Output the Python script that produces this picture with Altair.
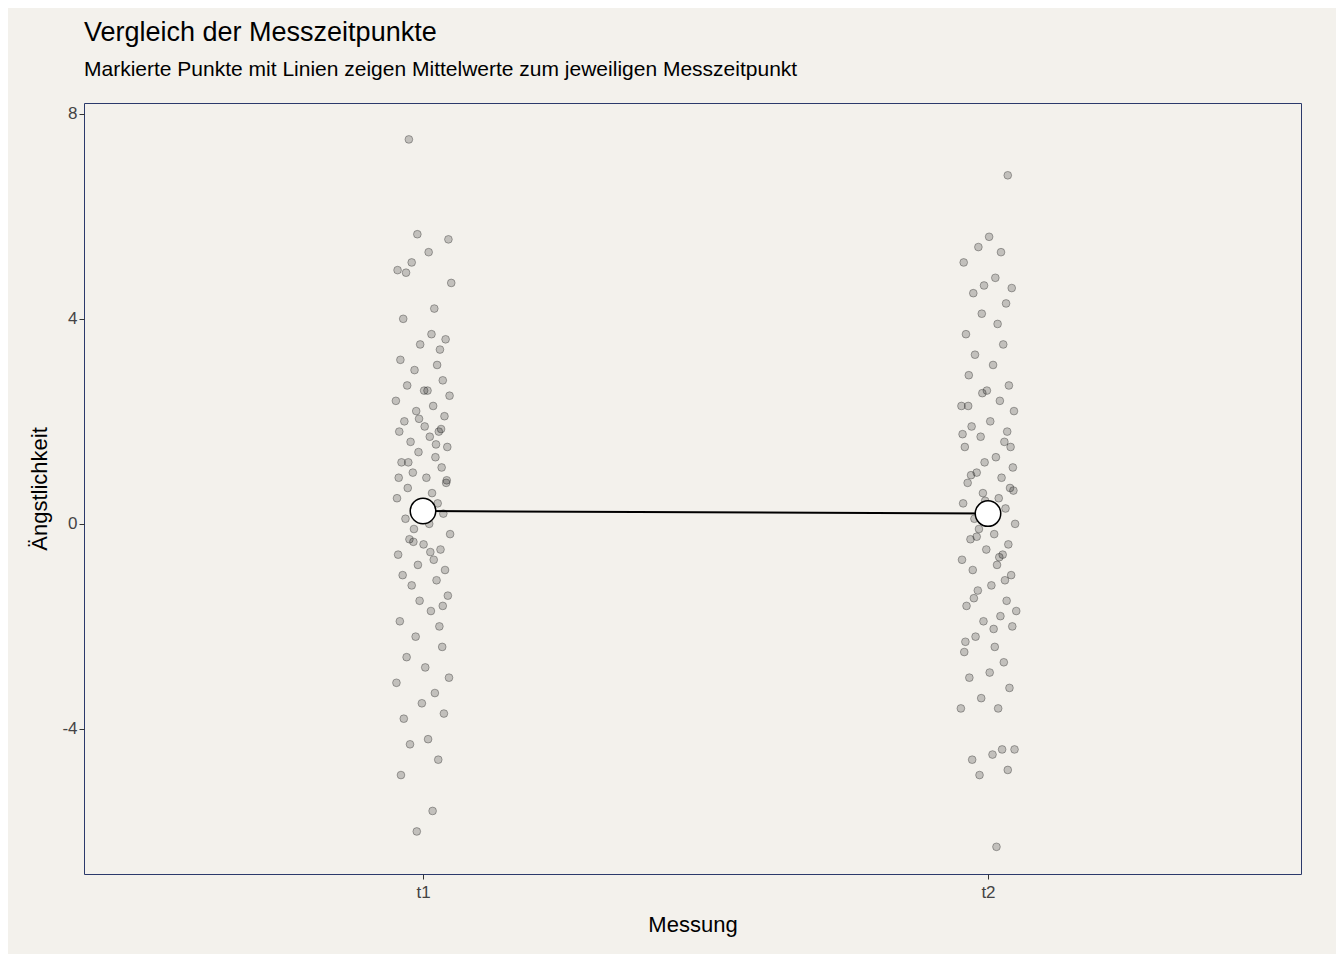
import altair as alt
import pandas as pd

groups = ["t1", "t2"]
means = [0.25, 0.2]

t1_values = [7.5, 5.65, 5.55, 5.3, 5.1, 4.95, 4.9, 4.7, 4.2, 4.0, 3.7, 3.6, 3.5, 3.4, 3.2, 3.1,
             3.0, 2.8, 2.7, 2.6, 2.5, 2.4, 2.3, 2.2, 2.1, 2.0, 1.9, 1.8, 1.8, 1.7, 1.6, 1.5,
             1.4, 1.3, 1.2, 1.1, 1.0, 0.9, 0.8, 0.7, 0.6, 0.5, 0.4, 0.3, 0.2, 0.1, 0.0, -0.1,
             -0.2, -0.3, -0.4, -0.5, -0.6, -0.7, -0.8, -0.9, -1.0, -1.1, -1.2, -1.4, -1.5, -1.7,
             -1.9, -2.0, -2.2, -2.4, -2.6, -2.8, -3.0, -3.1, -3.3, -3.5, -3.7, -3.8, -4.2, -4.3,
             -4.6, -4.9, -5.6, -6.0, 1.85, 1.2, 0.85, 2.05, -0.55, 0.9, 1.55, -0.35, 2.6, -1.6]
t2_values = [6.8, 5.6, 5.4, 5.3, 5.1, 4.8, 4.65, 4.6, 4.5, 4.3, 4.1, 3.9, 3.7, 3.5, 3.3, 3.1,
             2.9, 2.7, 2.6, 2.4, 2.3, 2.2, 2.0, 1.9, 1.8, 1.7, 1.6, 1.5, 1.3, 1.2, 1.1, 1.0,
             0.9, 0.8, 0.7, 0.6, 0.5, 0.4, 0.3, 0.2, 0.1, 0.0, -0.1, -0.2, -0.3, -0.4, -0.5, -0.6,
             -0.7, -0.8, -0.9, -1.0, -1.2, -1.3, -1.5, -1.6, -1.8, -1.9, -2.0, -2.2, -2.4, -2.5,
             -2.7, -2.9, -3.0, -3.2, -3.4, -3.6, -3.6, -4.4, -4.5, -4.6, -4.8, -4.9, -4.4, -2.3,
             -1.1, 0.45, 1.5, -6.3, 2.3, -0.65, -1.7, 0.95, 1.75, -0.25, -2.05, 0.65, 2.55, -1.45]
jitter = [-0.025, -0.01, 0.045, 0.01, -0.02, -0.045, -0.03, 0.05, 0.02, -0.035, 0.015, 0.04,
          -0.005, 0.03, -0.04, 0.025, -0.015, 0.035, -0.028, 0.008, 0.047, -0.048, 0.018, -0.012,
          0.038, -0.033, 0.003, 0.028, -0.042, 0.012, -0.022, 0.043, -0.008, 0.022, -0.038, 0.033,
          -0.018, 0.006, 0.041, -0.027, 0.016, -0.046, 0.026, -0.003, 0.036, -0.031, 0.011, -0.016,
          0.048, -0.024, 0.001, 0.031, -0.044, 0.019, -0.009, 0.039, -0.036, 0.024, -0.02, 0.044,
          -0.006, 0.014, -0.041, 0.029, -0.013, 0.034, -0.029, 0.004, 0.046, -0.047, 0.021, -0.002,
          0.037, -0.034, 0.009, -0.023, 0.027, -0.039, 0.017, -0.011, 0.032, -0.026, 0.042, -0.007,
          0.013, -0.043, 0.023, -0.017, 0.002, 0.035]

rows = []
for gi, vals in enumerate([t1_values, t2_values]):
    for i, v in enumerate(vals):
        j = jitter[i % len(jitter)] if gi == 0 else jitter[::-1][i % len(jitter)]
        rows.append({"x": gi + 1 + j, "y": v})
df = pd.DataFrame(rows)
mean_df = pd.DataFrame({"x": [1, 2], "y": means, "g": groups})

xs = alt.Scale(domain=[0.4, 2.554], nice=False, zero=False)
ys = alt.Scale(domain=[-6.83, 8.21], nice=False, zero=False)
x_axis = alt.Axis(values=[1, 2], labelExpr="datum.value == 1 ? 't1' : 't2'", title="Messung",
                  grid=False, labelFontSize=17, titleFontSize=22, labelColor="#444",
                  titleFontWeight="normal", titleColor="black", tickColor="#333", domain=False,
                  labelPadding=5, titlePadding=14)
y_axis = alt.Axis(values=[-4, 0, 4, 8], labelExpr="replace(datum.label, '−', '-')",
                  title="Ängstlichkeit", grid=False, labelFontSize=17,
                  titleFontSize=22, labelColor="#444", titleFontWeight="normal", titleColor="black",
                  tickColor="#333", domain=False, titlePadding=10)

points = alt.Chart(df).mark_point(shape="circle", size=60, filled=True, fill="black",
                                  fillOpacity=0.2, stroke="black", strokeOpacity=0.3,
                                  strokeWidth=1).encode(
    x=alt.X("x:Q", scale=xs, axis=x_axis), y=alt.Y("y:Q", scale=ys, axis=y_axis))
line = alt.Chart(mean_df).mark_line(color="black", strokeWidth=2).encode(
    x=alt.X("x:Q", scale=xs), y=alt.Y("y:Q", scale=ys))
mean_pts = alt.Chart(mean_df).mark_circle(size=650, fill="white", stroke="black",
                                          strokeWidth=1.5, opacity=1).encode(
    x=alt.X("x:Q", scale=xs), y=alt.Y("y:Q", scale=ys))

chart = (points + line + mean_pts).properties(
    width=1217, height=771,
    autosize=alt.AutoSizeParams(type="none"),
    padding={"left": 76, "top": 95, "right": 35, "bottom": 80},
    background="#f3f1ec",
    title=alt.TitleParams("Vergleich der Messzeitpunkte",
                          subtitle="Markierte Punkte mit Linien zeigen Mittelwerte zum jeweiligen Messzeitpunkt",
                          anchor="start", frame="group", fontSize=27, subtitleFontSize=21,
                          fontWeight="normal", color="black", subtitleColor="black",
                          offset=22, subtitlePadding=12),
).configure(font="Liberation Sans").configure_view(stroke="#2b3a6b", strokeWidth=1, fill="#f3f1ec")

chart.save("out.html", embed_options={"renderer": "svg", "actions": False})
